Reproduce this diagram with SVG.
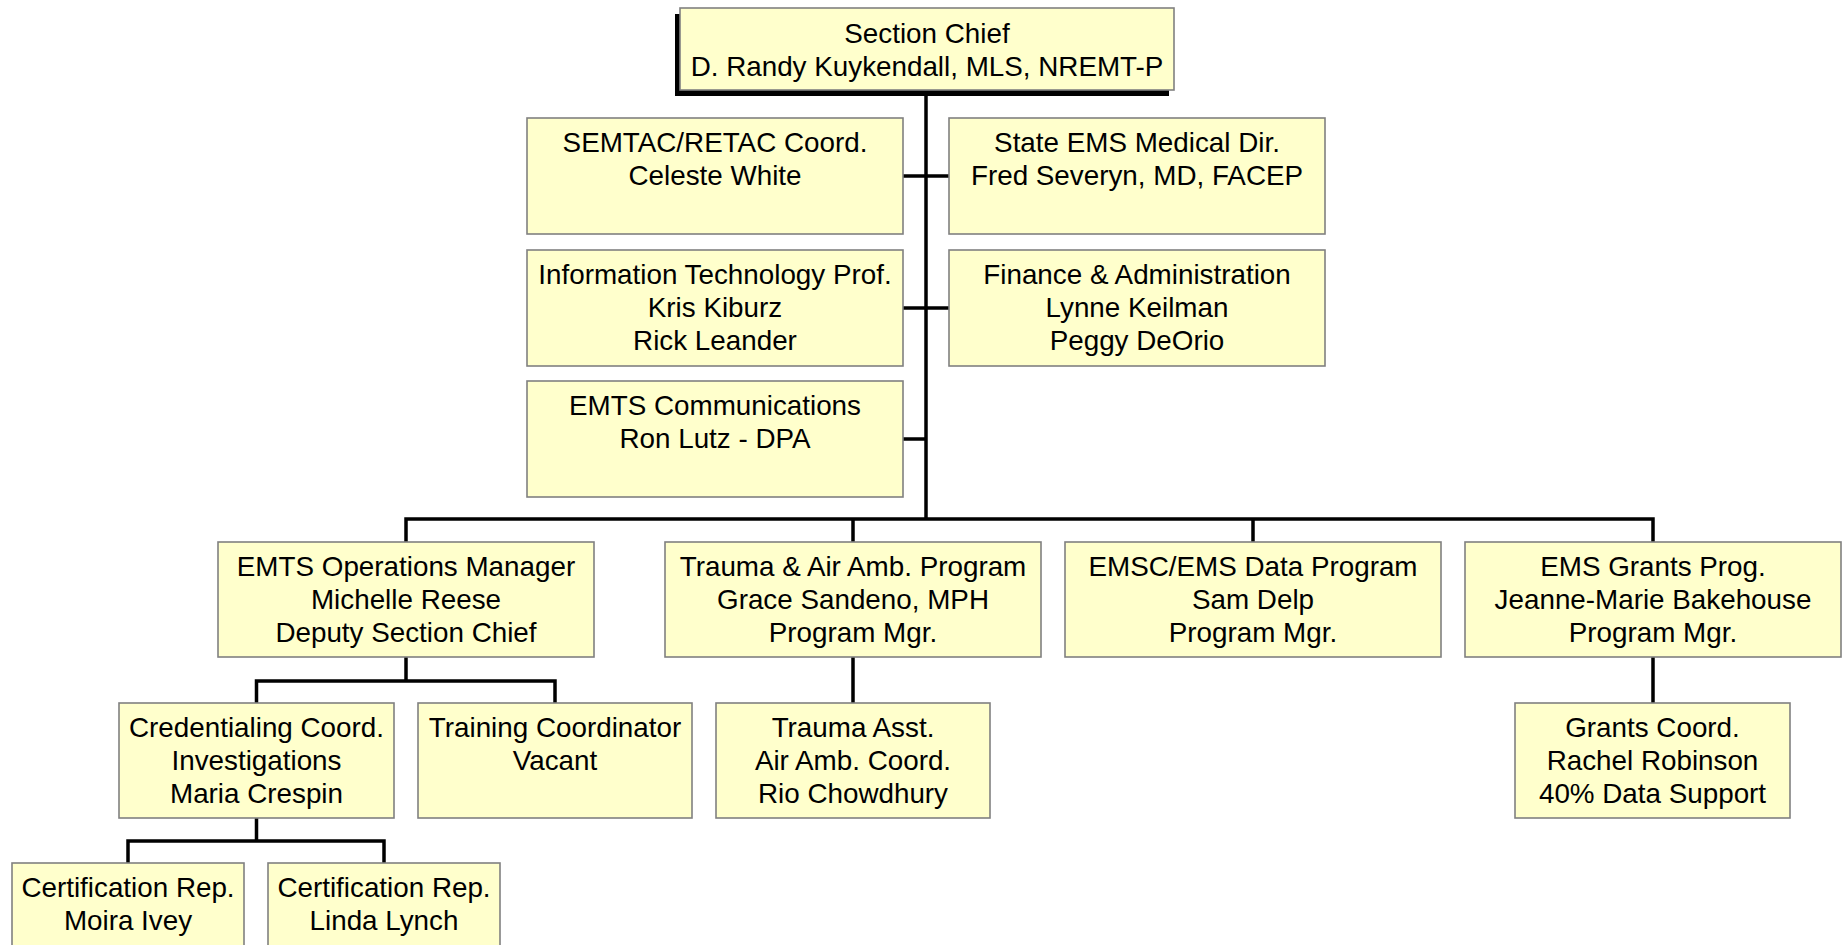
<svg xmlns="http://www.w3.org/2000/svg" width="1843" height="945" viewBox="0 0 1843 945">
<style>
.box{fill:#FFFFCC;stroke:#808080;stroke-width:1.6}
.sh{fill:#000}
.t{font-family:"Liberation Sans",Arial,sans-serif;font-size:27.8px;fill:#000;text-anchor:middle}
.c{stroke:#000;stroke-width:3.5;fill:none}
</style>
<rect width="1843" height="945" fill="#fff"/>
<g id="connectors">
<path class="c" d="M926,90V519"/>
<path class="c" d="M903,176H949M903,308H949M903,439H926"/>
<path class="c" d="M406,542V519H1653V542M853,519V542M1253,519V542"/>
<path class="c" d="M406,657V681M256.5,703V681H555V703"/>
<path class="c" d="M853,657V703M1653,657V703"/>
<path class="c" d="M256.5,818V841M128,863V841H384V863"/>
</g>
<g id="chief">
<rect class="sh" x="675" y="14" width="494" height="82"/>
<rect class="box" x="680" y="8" width="494" height="82"/>
<text class="t" x="927" y="43">Section Chief</text>
<text class="t" x="927" y="76">D. Randy Kuykendall, MLS, NREMT-P</text>
</g>
<g id="semtac">
<rect class="box" x="527" y="118" width="376" height="116"/>
<text class="t" x="715" y="152">SEMTAC/RETAC Coord.</text>
<text class="t" x="715" y="185">Celeste White</text>
</g>
<g id="medical">
<rect class="box" x="949" y="118" width="376" height="116"/>
<text class="t" x="1137" y="152">State EMS Medical Dir.</text>
<text class="t" x="1137" y="185">Fred Severyn, MD, FACEP</text>
</g>
<g id="it">
<rect class="box" x="527" y="250" width="376" height="116"/>
<text class="t" x="715" y="284">Information Technology Prof.</text>
<text class="t" x="715" y="317">Kris Kiburz</text>
<text class="t" x="715" y="350">Rick Leander</text>
</g>
<g id="finance">
<rect class="box" x="949" y="250" width="376" height="116"/>
<text class="t" x="1137" y="284">Finance &amp; Administration</text>
<text class="t" x="1137" y="317">Lynne Keilman</text>
<text class="t" x="1137" y="350">Peggy DeOrio</text>
</g>
<g id="comms">
<rect class="box" x="527" y="381" width="376" height="116"/>
<text class="t" x="715" y="415">EMTS Communications</text>
<text class="t" x="715" y="448">Ron Lutz - DPA</text>
</g>
<g id="ops">
<rect class="box" x="218" y="542" width="376" height="115"/>
<text class="t" x="406" y="576">EMTS Operations Manager</text>
<text class="t" x="406" y="609">Michelle Reese</text>
<text class="t" x="406" y="642">Deputy Section Chief</text>
</g>
<g id="trauma">
<rect class="box" x="665" y="542" width="376" height="115"/>
<text class="t" x="853" y="576">Trauma &amp; Air Amb. Program</text>
<text class="t" x="853" y="609">Grace Sandeno, MPH</text>
<text class="t" x="853" y="642">Program Mgr.</text>
</g>
<g id="emsc">
<rect class="box" x="1065" y="542" width="376" height="115"/>
<text class="t" x="1253" y="576">EMSC/EMS Data Program</text>
<text class="t" x="1253" y="609">Sam Delp</text>
<text class="t" x="1253" y="642">Program Mgr.</text>
</g>
<g id="grants">
<rect class="box" x="1465" y="542" width="376" height="115"/>
<text class="t" x="1653" y="576">EMS Grants Prog.</text>
<text class="t" x="1653" y="609">Jeanne-Marie Bakehouse</text>
<text class="t" x="1653" y="642">Program Mgr.</text>
</g>
<g id="cred">
<rect class="box" x="119" y="703" width="275" height="115"/>
<text class="t" x="256.5" y="737">Credentialing Coord.</text>
<text class="t" x="256.5" y="770">Investigations</text>
<text class="t" x="256.5" y="803">Maria Crespin</text>
</g>
<g id="training">
<rect class="box" x="418" y="703" width="274" height="115"/>
<text class="t" x="555" y="737">Training Coordinator</text>
<text class="t" x="555" y="770">Vacant</text>
</g>
<g id="traumaasst">
<rect class="box" x="716" y="703" width="274" height="115"/>
<text class="t" x="853" y="737">Trauma Asst.</text>
<text class="t" x="853" y="770">Air Amb. Coord.</text>
<text class="t" x="853" y="803">Rio Chowdhury</text>
</g>
<g id="grantscoord">
<rect class="box" x="1515" y="703" width="275" height="115"/>
<text class="t" x="1652.5" y="737">Grants Coord.</text>
<text class="t" x="1652.5" y="770">Rachel Robinson</text>
<text class="t" x="1652.5" y="803">40% Data Support</text>
</g>
<g id="moira">
<rect class="box" x="12" y="863" width="232" height="115"/>
<text class="t" x="128" y="897">Certification Rep.</text>
<text class="t" x="128" y="930">Moira Ivey</text>
</g>
<g id="linda">
<rect class="box" x="268" y="863" width="232" height="115"/>
<text class="t" x="384" y="897">Certification Rep.</text>
<text class="t" x="384" y="930">Linda Lynch</text>
</g>
</svg>
